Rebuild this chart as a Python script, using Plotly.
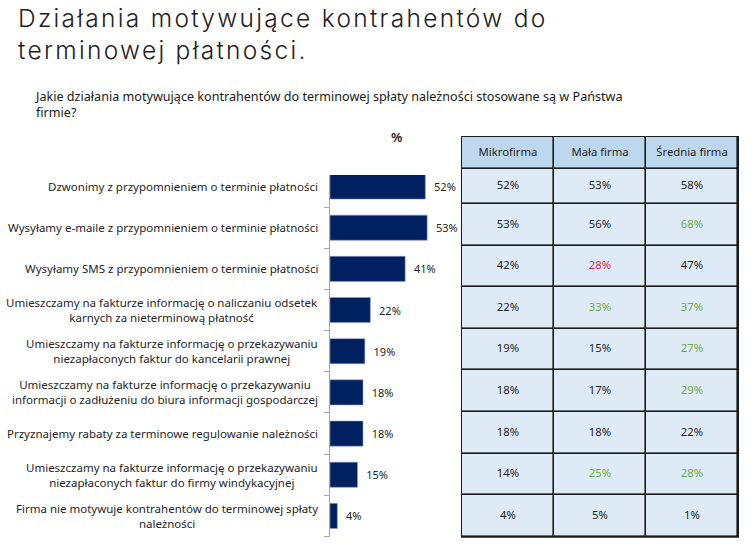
import plotly.graph_objects as go

W, H = 756, 559

# ---------------- data ----------------
categories = [
    "Dzwonimy z przypomnieniem o terminie płatności",
    "Wysyłamy e-maile z przypomnieniem o terminie płatności",
    "Wysyłamy SMS z przypomnieniem o terminie płatności",
    "Umieszczamy na fakturze informację o naliczaniu odsetek<br>karnych za nieterminową płatność",
    "Umieszczamy na fakturze informację o przekazywaniu<br>niezapłaconych faktur do kancelarii prawnej",
    "Umieszczamy na fakturze informację o przekazywaniu<br>informacji o zadłużeniu do biura informacji gospodarczej",
    "Przyznajemy rabaty za terminowe regulowanie należności",
    "Umieszczamy na fakturze informację o przekazywaniu<br>niezapłaconych faktur do firmy windykacyjnej",
    "Firma nie motywuje kontrahentów do terminowej spłaty<br>należności",
]
total = [52, 53, 41, 22, 19, 18, 18, 15, 4]

table_headers = ["Mikrofirma", "Mała firma", "Średnia firma"]
mikro = [52, 53, 42, 22, 19, 18, 18, 14, 4]
mala = [53, 56, 28, 33, 15, 17, 18, 25, 5]
srednia = [58, 68, 47, 37, 27, 29, 22, 28, 1]
# "+" significantly higher, "-" significantly lower, "" no difference
mikro_flag = ["", "", "", "", "", "", "", "", ""]
mala_flag = ["", "", "-", "+", "", "", "", "+", ""]
srednia_flag = ["", "+", "", "+", "+", "+", "", "+", ""]

title_text = "Działania motywujące kontrahentów do<br>terminowej płatności"
subtitle_text = ("Jakie działania motywujące kontrahentów do terminowej spłaty należności "
                 "stosowane są w Państwa<br>firmie?")

# ---------------- styles / layout helpers ----------------
BAR_COLOR = "#002060"
TEXT_COLOR = "#262626"
FLAG_COLORS = {"": "#262626", "+": "#70AD47", "-": "#E2264D"}
HEADER_FILL = "#BDD7EE"
CELL_FILL = "#DEEBF7"
LABEL_FONT = "Noto Sans, Open Sans, sans-serif"


def px_x(p):
    return p / W


def px_y(p):
    return 1 - p / H


n = len(categories)
idx = list(range(n))

# bar panel geometry (pixels)
BAR_TOP, BAR_BOT = 175, 536.5
BAR_LEFT, BAR_RIGHT = 330, 440
bar_scale = 41.17  # px per category
bar_top_val = (n - 0.5) - (BAR_BOT - BAR_TOP) / bar_scale

# table geometry (pixels)
T_LEFT, T_RIGHT = 462, 738
T_TOP, T_BOT, T_HEAD = 137, 536.7, 168.5
t_scale = 41.6
t_top_val = (n - 0.5) - (T_BOT - T_TOP) / t_scale
t_head_val = (n - 0.5) - (T_BOT - T_HEAD) / t_scale
row_edges = [t_top_val, t_head_val] + [i + 0.5 for i in range(n)]
row_centers = [(row_edges[k] + row_edges[k + 1]) / 2 for k in range(n + 1)]

fig = go.Figure()

# bars
fig.add_trace(go.Bar(
    x=total, y=idx, orientation="h",
    marker=dict(color=BAR_COLOR, line=dict(color="#8EA0C8", width=0.6)),
    text=["\u00a0\u00a0%d%%" % v for v in total],
    textposition="outside",
    textfont=dict(family=LABEL_FONT, size=11, color=TEXT_COLOR),
    cliponaxis=False, hoverinfo="skip",
    xaxis="x", yaxis="y",
))

# table background cells
cols = [mikro, mala, srednia]
flags = [mikro_flag, mala_flag, srednia_flag]
z = [[0] * 3] + [[1] * 3 for _ in range(n)]
fig.add_trace(go.Heatmap(
    x=[0, 1, 2], y=row_edges, z=z,
    colorscale=[[0, HEADER_FILL], [1, CELL_FILL]], zmin=0, zmax=1,
    showscale=False, xgap=1.6, ygap=1.6, hoverinfo="skip",
    xaxis="x2", yaxis="y2",
))

# table texts
tx, ty, tt, tc = [], [], [], []
for c in range(3):
    tx.append(c); ty.append(row_centers[0]); tt.append(table_headers[c]); tc.append(TEXT_COLOR)
    for r in range(n):
        tx.append(c); ty.append(row_centers[r + 1]); tt.append("%d%%" % cols[c][r])
        tc.append(FLAG_COLORS[flags[c][r]])
fig.add_trace(go.Scatter(
    x=tx, y=ty, text=tt, mode="text",
    textfont=dict(family=LABEL_FONT, size=11.3, color=tc),
    hoverinfo="skip", xaxis="x2", yaxis="y2", showlegend=False,
))

# category labels
annotations = []
for i, cat in enumerate(categories):
    annotations.append(dict(
        x=0, y=i, xref="x", yref="y", text=cat, showarrow=False,
        xanchor="right", yanchor="middle", align="center", xshift=-10,
        font=dict(family=LABEL_FONT, size=11.5, color=TEXT_COLOR),
    ))

# title: one text block (plotly line spacing), slightly smaller to keep the pair compact
annotations.append(dict(
    x=px_x(16), y=px_y(1), xref="paper", yref="paper",
    text="<span style='letter-spacing:2.3px'>" + title_text
         + "<span style='color:#1F3B73'>.</span></span>",
    showarrow=False, xanchor="left", yanchor="top", align="left",
    font=dict(family="Inter, DejaVu Sans, sans-serif", size=24.5,
              color="#222222", weight=300),
))
annotations.append(dict(
    x=px_x(33), y=px_y(86), xref="paper", yref="paper",
    text=subtitle_text, showarrow=False, xanchor="left", yanchor="top", align="left",
    font=dict(family=LABEL_FONT, size=12.6, color="#1a1a1a"),
))
annotations.append(dict(
    x=px_x(396), y=px_y(137), xref="paper", yref="paper",
    text="%", showarrow=False, xanchor="center", yanchor="middle",
    font=dict(family=LABEL_FONT, size=13, color="#1a1a1a", weight=600),
))

shapes = [dict(
    type="rect", xref="x2 domain", yref="y2 domain",
    x0=-1.0 / (T_RIGHT - T_LEFT), x1=1 + 1.0 / (T_RIGHT - T_LEFT),
    y0=-1.0 / (T_BOT - T_TOP), y1=1 + 1.0 / (T_BOT - T_TOP),
    fillcolor="#1a1a1a", line=dict(width=0), layer="below",
)]

fig.update_layout(
    width=W, height=H, margin=dict(l=0, r=0, t=0, b=0),
    paper_bgcolor="white", plot_bgcolor="white",
    showlegend=False, bargap=0.39,
    annotations=annotations, shapes=shapes,
    xaxis=dict(domain=[px_x(BAR_LEFT), px_x(BAR_RIGHT)], range=[0, 60],
               visible=False, anchor="y"),
    yaxis=dict(domain=[px_y(BAR_BOT), px_y(BAR_TOP)], range=[n - 0.5, bar_top_val],
               anchor="x", showline=True, linecolor="#A6A6A6", linewidth=1,
               ticks="outside", ticklen=5, tickcolor="#A6A6A6",
               tickvals=[i + 0.5 for i in range(n)], showticklabels=False,
               showgrid=False, zeroline=False),
    xaxis2=dict(domain=[px_x(T_LEFT), px_x(T_RIGHT)], range=[-0.5, 2.5],
                visible=False, anchor="y2"),
    yaxis2=dict(domain=[px_y(T_BOT), px_y(T_TOP)], range=[n - 0.5, t_top_val],
                visible=False, anchor="x2"),
)

fig.write_html("out.html", config={"displayModeBar": False},
               post_script="document.body.style.margin='0';")
